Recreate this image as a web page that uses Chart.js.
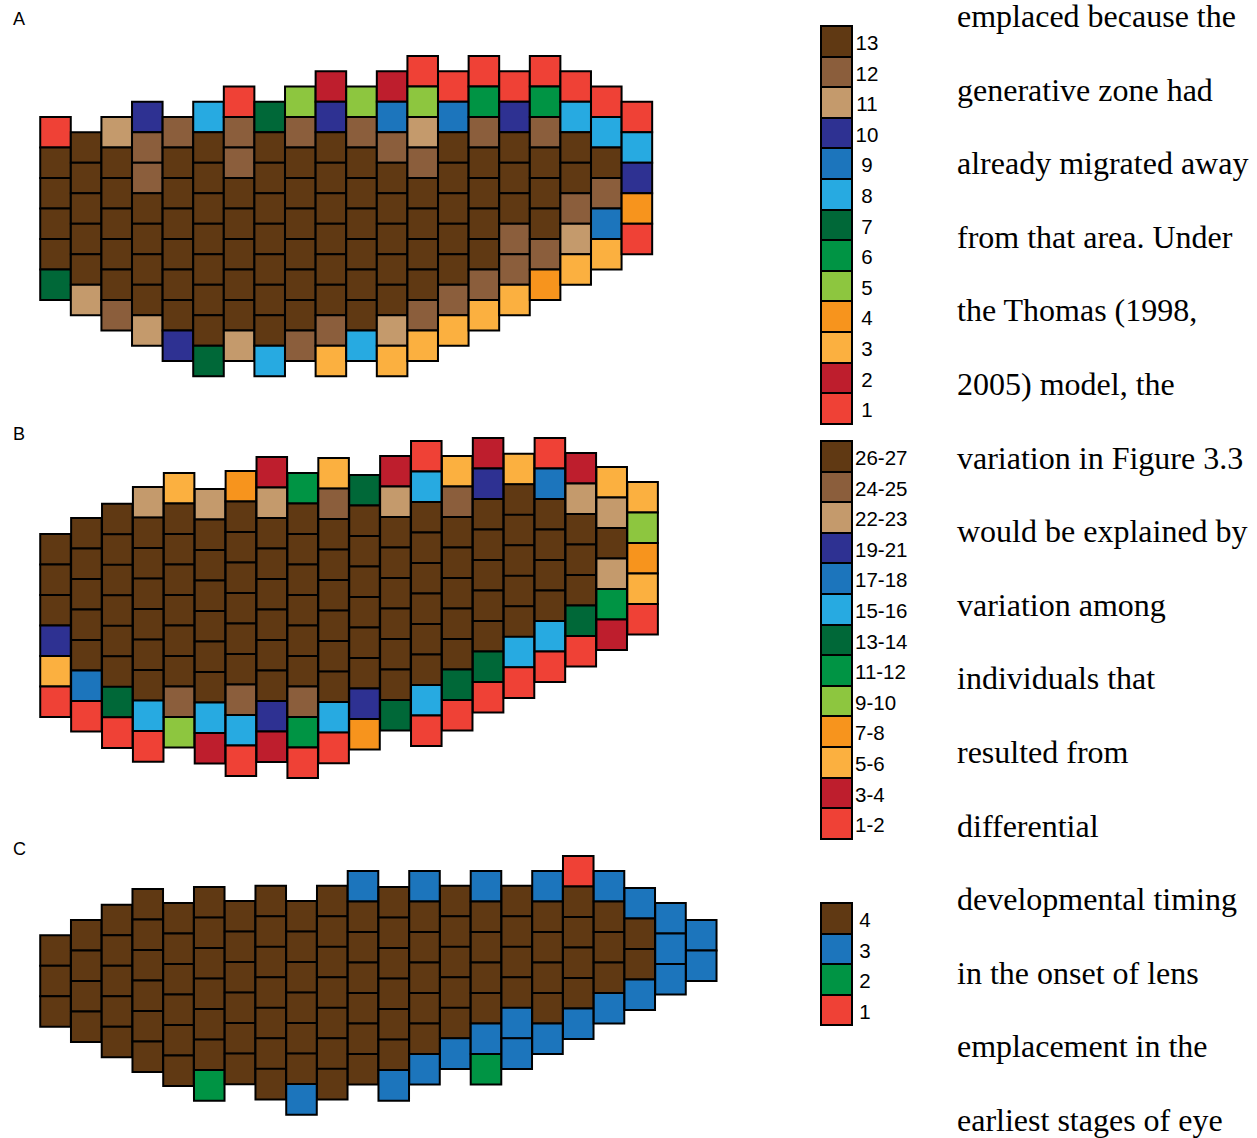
<!DOCTYPE html>
<html>
<head>
<meta charset="utf-8">
<script src="https://cdn.jsdelivr.net/npm/chart.js@4.4.1/dist/chart.umd.min.js"></script>
<style>
  html, body { margin: 0; padding: 0; background: #fff; }
  body { position: relative; width: 1257px; height: 1138px; overflow: hidden; }
  .panel { position: absolute; left: 0; }
  .panel canvas { display: block; }
  .plabel { position: absolute; left: 13px; font: 18px/18px "Liberation Sans", Arial, sans-serif; color: #000; }
  .key { position: absolute; left: 820px; width: 120px; }
  .sw { position: absolute; left: 0; width: 33px; box-sizing: border-box; border: 2px solid #000; }
  .kl { position: absolute; font: 20.5px "Liberation Sans", Arial, sans-serif; color: #000; white-space: nowrap; }
  .prose { position: absolute; left: 957px; top: -20px; font: 32px "Liberation Serif", "Times New Roman", serif;
           line-height: 73.6px; color: #000; white-space: pre; }
</style>
</head>
<body>

<div class="plabel" style="top:9.6px">A</div>
<div class="plabel" style="top:424.6px">B</div>
<div class="plabel" style="top:839.6px">C</div>

<div class="panel" id="wrapA" style="top:26px"><canvas id="eyeA" width="760" height="374"></canvas></div>
<div class="panel" id="wrapB" style="top:408px"><canvas id="eyeB" width="760" height="400"></canvas></div>
<div class="panel" id="wrapC" style="top:826px"><canvas id="eyeC" width="760" height="312"></canvas></div>

<div class="key" id="keyA" style="top:25px"></div>
<div class="key" id="keyB" style="top:440px"></div>
<div class="key" id="keyC" style="top:902px"></div>

<div class="prose" id="prose"></div>

<script>
// Lens codes per dorsoventral file, listed top to bottom, one array per file.
// Codes 13..1 in panels A and B, 4..1 in panel C (see the keys on the right).
const lensFilesA = [
  [1,13,13,13,13,7],
  [13,13,13,13,13,11],
  [11,13,13,13,13,13,12],
  [10,12,12,13,13,13,13,11],
  [12,13,13,13,13,13,13,10],
  [8,13,13,13,13,13,13,13,7],
  [1,12,12,13,13,13,13,13,11],
  [7,13,13,13,13,13,13,13,8],
  [5,12,13,13,13,13,13,13,12],
  [2,10,13,13,13,13,13,13,12,3],
  [5,12,13,13,13,13,13,13,8],
  [2,9,12,13,13,13,13,13,11,3],
  [1,5,11,12,13,13,13,13,12,3],
  [1,9,13,13,13,13,13,12,3],
  [1,6,12,13,13,13,13,12,3],
  [1,10,13,13,13,12,12,3],
  [1,6,12,13,13,13,12,4],
  [1,8,13,13,12,11,3],
  [1,8,13,12,9,3],
  [1,8,10,4,1]
];
// Row at which each file begins, in lens heights from the top of the panel.
const fileStartA = [2,2.5,2,1.5,2,1.5,1,1.5,1,0.5,1,0.5,0,0.5,0,0.5,0,0.5,1,1.5];

const lensFilesB = [
  [13,13,13,10,3,1],
  [13,13,13,13,13,9,1],
  [13,13,13,13,13,13,7,1],
  [11,13,13,13,13,13,13,8,1],
  [3,13,13,13,13,13,13,12,5],
  [11,13,13,13,13,13,13,8,2],
  [4,13,13,13,13,13,13,12,8,1],
  [2,11,13,13,13,13,13,13,10,2],
  [6,13,13,13,13,13,13,12,6,1],
  [3,12,13,13,13,13,13,13,8,1],
  [7,13,13,13,13,13,13,10,4],
  [2,11,13,13,13,13,13,13,7],
  [1,8,13,13,13,13,13,13,8,1],
  [3,12,13,13,13,13,13,7,1],
  [2,10,13,13,13,13,13,7,1],
  [3,13,13,13,13,13,8,1],
  [1,9,13,13,13,13,8,1],
  [2,11,13,13,13,7,1],
  [3,11,13,11,6,2],
  [3,5,4,3,1]
];
const fileStartB = [3.15,2.62,2.16,1.61,1.15,1.67,1.08,0.62,1.15,0.66,1.21,0.59,0.1,0.59,0,0.52,0,0.49,0.95,1.44];

const lensFilesC = [
  [4,4,4],
  [4,4,4,4],
  [4,4,4,4,4],
  [4,4,4,4,4,4],
  [4,4,4,4,4,4],
  [4,4,4,4,4,4,2],
  [4,4,4,4,4,4],
  [4,4,4,4,4,4,4],
  [4,4,4,4,4,4,3],
  [4,4,4,4,4,4,4],
  [3,4,4,4,4,4,4],
  [4,4,4,4,4,4,3],
  [3,4,4,4,4,4,3],
  [4,4,4,4,4,3],
  [3,4,4,4,4,3,2],
  [4,4,4,4,3,3],
  [3,4,4,4,4,3],
  [1,4,4,4,4,3],
  [3,4,4,4,3],
  [3,4,4,3],
  [3,3,3],
  [3,3]
];
const fileStartC = [2.6,2.1,1.6,1.08,1.54,1.02,1.48,0.98,1.48,0.98,0.49,1.02,0.49,0.98,0.49,0.98,0.49,0,0.49,1.05,1.54,2.1];

// Key labels, top to bottom, and the code each row stands for.
const keyCodesAB = [13,12,11,10,9,8,7,6,5,4,3,2,1];
const keyLabelsA = ['13','12','11','10','9','8','7','6','5','4','3','2','1'];
const keyLabelsB = ['26-27','24-25','22-23','19-21','17-18','15-16','13-14','11-12','9-10','7-8','5-6','3-4','1-2'];
const keyCodesC = [4,3,2,1];
const keyLabelsC = ['4','3','2','1'];

const proseLines = [
  'emplaced because the',
  'generative zone had',
  'already migrated away',
  'from that area. Under',
  'the Thomas (1998,',
  '2005) model, the',
  'variation in Figure 3.3',
  'would be explained by',
  'variation among',
  'individuals that',
  'resulted from',
  'differential',
  'developmental timing',
  'in the onset of lens',
  'emplacement in the',
  'earliest stages of eye'
];

// Colours
const colourAB = {
  1:'#ef4136', 2:'#be1e2d', 3:'#fbb040', 4:'#f7941d', 5:'#8dc63f', 6:'#009444', 7:'#006838',
  8:'#27aae1', 9:'#1c75bc', 10:'#2e3192', 11:'#c49a6c', 12:'#8b5e3c', 13:'#603913'
};
const colourC = { 1:'#ef4136', 2:'#009444', 3:'#1c75bc', 4:'#603913' };

// Layout (pixels)
const LENS = 30.55;          // side of one lens square
const ROW = 30.5;            // vertical pitch
const FIRST_X = 55.5;        // centre of the first file
const KEY_ROW = 30.6;

function drawEye(canvasId, canvasTop, panelTop, colPitch, files, starts, colours) {
  const points = [], fills = [];
  files.forEach((file, i) => {
    file.forEach((code, j) => {
      points.push({ x: i, y: starts[i] + j + 0.5 });
      fills.push(colours[code]);
    });
  });
  const cv = document.getElementById(canvasId);
  const W = cv.width, H = cv.height;
  const xMin = -FIRST_X / colPitch;
  const yMin = -(panelTop - canvasTop) / ROW;
  const r = LENS / Math.SQRT2;
  new Chart(cv, {
    type: 'scatter',
    data: {
      datasets: [{
        data: points,
        pointStyle: 'rect',
        pointRadius: r,
        pointHoverRadius: r,
        pointBackgroundColor: fills,
        pointBorderColor: '#000',
        pointBorderWidth: 2,
        pointHoverBorderWidth: 2,
        showLine: false,
        clip: false
      }]
    },
    options: {
      responsive: false,
      animation: false,
      events: [],
      layout: { padding: 0, autoPadding: false },
      plugins: { legend: { display: false }, tooltip: { enabled: false } },
      scales: {
        x: { type: 'linear', display: false, min: xMin, max: xMin + W / colPitch },
        y: { type: 'linear', display: false, reverse: true, min: yMin, max: yMin + H / ROW }
      }
    }
  });
}

drawEye('eyeA', 26, 56, 30.6, lensFilesA, fileStartA, colourAB);
drawEye('eyeB', 408, 438, 30.9, lensFilesB, fileStartB, colourAB);
drawEye('eyeC', 826, 856, 30.75, lensFilesC, fileStartC, colourC);

function buildKey(id, codes, labels, colours, labelStyle) {
  const key = document.getElementById(id);
  codes.forEach((code, i) => {
    const sw = document.createElement('div');
    sw.className = 'sw';
    sw.style.top = (i * KEY_ROW) + 'px';
    sw.style.height = (KEY_ROW + 2) + 'px';
    sw.style.background = colours[code];
    key.appendChild(sw);
    const lb = document.createElement('div');
    lb.className = 'kl';
    lb.textContent = labels[i];
    lb.style.top = (i * KEY_ROW + 3) + 'px';
    lb.style.lineHeight = KEY_ROW + 'px';
    Object.assign(lb.style, labelStyle);
    key.appendChild(lb);
  });
}
buildKey('keyA', keyCodesAB, keyLabelsA, colourAB, { left: '31px', width: '32px', textAlign: 'center' });
buildKey('keyB', keyCodesAB, keyLabelsB, colourAB, { left: '35px' });
buildKey('keyC', keyCodesC, keyLabelsC, colourC, { left: '31px', width: '28px', textAlign: 'center' });

document.getElementById('prose').textContent = proseLines.join('\n');
</script>
</body>
</html>
